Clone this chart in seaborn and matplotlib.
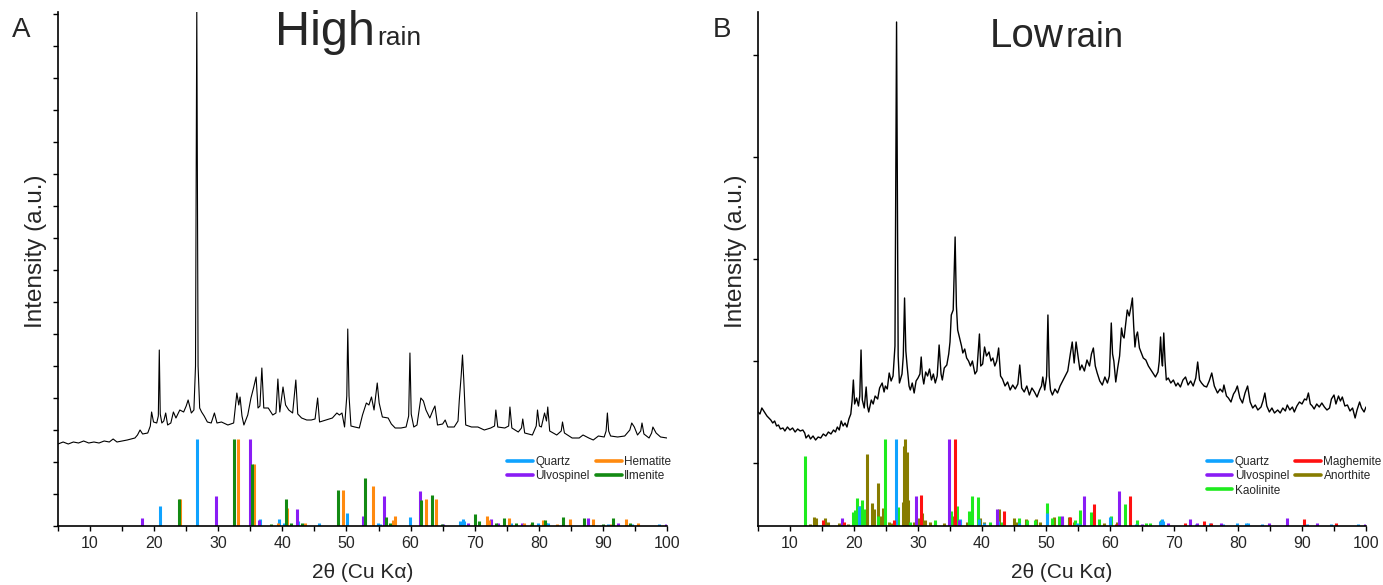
import numpy as np
import pandas as pd
import seaborn as sns
import matplotlib.pyplot as plt
from matplotlib.lines import Line2D
from matplotlib.ticker import MultipleLocator

sns.set_style("ticks")
plt.rcParams['font.family'] = ['Liberation Sans', 'DejaVu Sans']

HIGH_TRACE = [
    (5.0, 82), (5.8, 84), (6.6, 82), (7.4, 84), (8.2, 83), (9.0, 85), (9.8, 83), (10.6, 84),
    (11.4, 83), (12.2, 85), (13.0, 84), (13.6, 87), (14.2, 84), (15.0, 85), (15.8, 86), (16.4, 87),
    (17.0, 88), (17.4, 91), (17.8, 96), (18.2, 92), (19.0, 93), (19.4, 100), (19.6, 114), (19.9, 104),
    (20.4, 103), (20.65, 110), (20.8, 176), (20.95, 112), (21.2, 103), (21.5, 105), (21.8, 113),
    (22.1, 101), (22.6, 103), (23.0, 114), (23.4, 108), (24.0, 116), (24.6, 114), (25.0, 120),
    (25.3, 126), (25.8, 113), (26.2, 116), (26.45, 160), (26.65, 520), (26.85, 160), (27.1, 118),
    (27.4, 114), (27.8, 110), (28.3, 104), (28.9, 103), (29.4, 113), (29.8, 103), (30.5, 104),
    (31.5, 101), (32.4, 103), (32.9, 133), (33.2, 121), (33.4, 129), (33.7, 110), (34.0, 101),
    (34.6, 111), (35.1, 128), (35.5, 138), (35.9, 149), (36.2, 118), (36.5, 120), (36.8, 158),
    (37.1, 118), (37.8, 118), (38.5, 111), (39.0, 113), (39.3, 147), (39.6, 114), (40.1, 139),
    (40.5, 121), (41.0, 116), (41.6, 113), (42.1, 146), (42.4, 112), (43.0, 108), (43.8, 106),
    (44.5, 106), (45.1, 107), (45.5, 128), (45.8, 104), (46.8, 106), (47.8, 108), (48.5, 113),
    (48.9, 111), (49.3, 113), (49.7, 99), (50.05, 130), (50.2, 197), (50.4, 130), (50.7, 100),
    (51.3, 99), (52.0, 98), (52.5, 111), (53.1, 123), (53.5, 121), (53.9, 129), (54.3, 116),
    (54.8, 143), (55.1, 123), (55.6, 109), (56.5, 108), (57.0, 102), (57.6, 98), (58.5, 98),
    (59.3, 99), (59.7, 110), (59.9, 173), (60.1, 112), (60.5, 99), (61.0, 101), (61.6, 128),
    (62.0, 125), (62.4, 116), (63.0, 108), (63.5, 116), (63.8, 120), (64.2, 101), (65.0, 102),
    (65.4, 106), (65.8, 99), (66.8, 99), (67.4, 105), (67.6, 126), (67.9, 151), (68.1, 171),
    (68.3, 146), (68.6, 101), (69.5, 99), (70.5, 99), (71.5, 96), (72.5, 98), (73.1, 100),
    (73.3, 116), (73.6, 99), (74.7, 98), (75.3, 100), (75.5, 119), (75.8, 98), (76.8, 94),
    (77.3, 98), (77.5, 107), (77.8, 93), (79.0, 91), (79.6, 100), (79.8, 116), (80.1, 100),
    (80.4, 99), (80.9, 113), (81.2, 105), (81.4, 119), (81.7, 95), (82.8, 91), (83.5, 95),
    (83.7, 104), (84.0, 93), (85.2, 88), (86.3, 88), (86.9, 91), (87.8, 88), (88.5, 86), (89.3, 90),
    (90.2, 89), (90.5, 95), (90.7, 113), (90.9, 95), (91.2, 90), (92.3, 89), (93.4, 90), (94.2, 96),
    (94.5, 103), (94.9, 99), (95.4, 91), (95.9, 95), (96.1, 103), (96.4, 92), (97.2, 88), (97.6, 93),
    (97.8, 99), (98.3, 93), (99.0, 89), (100.0, 88),
]

LOW_TRACE = [
    (5.0, 114), (5.3, 112), (5.6, 118), (5.8, 116), (6.1, 113), (6.4, 110), (6.7, 108), (7.0, 106),
    (7.3, 103), (7.6, 105), (7.9, 100), (8.2, 101), (8.5, 97), (8.9, 98), (9.2, 95), (9.6, 99),
    (10.0, 96), (10.4, 98), (10.8, 94), (11.2, 97), (11.6, 95), (12.0, 96), (12.3, 93), (12.5, 88),
    (12.9, 91), (13.2, 87), (13.6, 90), (14.0, 86), (14.4, 89), (14.8, 88), (15.2, 92), (15.6, 90),
    (16.0, 94), (16.4, 92), (16.8, 96), (17.1, 94), (17.4, 99), (17.7, 96), (18.0, 105), (18.3, 100),
    (18.6, 103), (18.9, 99), (19.2, 107), (19.5, 112), (19.7, 125), (19.9, 146), (20.1, 122),
    (20.4, 128), (20.7, 120), (20.9, 130), (21.1, 176), (21.3, 126), (21.6, 118), (21.9, 139),
    (22.1, 120), (22.3, 114), (22.7, 126), (23.0, 122), (23.3, 130), (23.7, 127), (24.0, 138),
    (24.4, 143), (24.7, 134), (24.9, 140), (25.2, 137), (25.5, 153), (25.8, 145), (26.1, 150),
    (26.4, 180), (26.65, 504), (26.9, 170), (27.1, 143), (27.5, 152), (27.7, 170), (27.9, 228),
    (28.1, 175), (28.3, 160), (28.6, 140), (28.8, 136), (29.1, 143), (29.4, 133), (29.7, 145),
    (30.0, 148), (30.3, 152), (30.5, 169), (30.7, 150), (30.9, 142), (31.2, 154), (31.5, 150),
    (31.8, 157), (32.1, 146), (32.4, 152), (32.7, 143), (33.0, 150), (33.3, 181), (33.6, 152),
    (33.8, 146), (34.1, 158), (34.5, 161), (34.8, 172), (35.0, 184), (35.2, 211), (35.5, 216),
    (35.8, 289), (36.0, 220), (36.2, 196), (36.5, 188), (36.8, 180), (37.0, 173), (37.3, 177),
    (37.6, 168), (37.9, 165), (38.2, 160), (38.5, 165), (38.9, 152), (39.2, 155), (39.6, 192),
    (39.8, 160), (40.1, 162), (40.4, 179), (40.7, 170), (41.1, 174), (41.4, 165), (41.7, 168),
    (42.0, 160), (42.3, 165), (42.6, 178), (42.9, 150), (43.2, 147), (43.6, 140), (44.0, 144),
    (44.4, 136), (44.8, 141), (45.2, 137), (45.6, 142), (45.9, 161), (46.2, 138), (46.6, 134),
    (47.0, 140), (47.4, 131), (47.8, 138), (48.2, 134), (48.6, 129), (49.0, 136), (49.3, 140),
    (49.5, 149), (49.8, 136), (50.1, 150), (50.3, 211), (50.5, 150), (50.7, 136), (51.0, 131),
    (51.4, 137), (51.8, 133), (52.2, 140), (52.6, 145), (53.0, 150), (53.4, 155), (53.8, 172),
    (54.1, 184), (54.4, 163), (54.7, 184), (55.0, 170), (55.3, 156), (55.6, 161), (56.0, 155),
    (56.4, 166), (56.8, 160), (57.1, 172), (57.4, 178), (57.7, 160), (58.0, 153), (58.4, 145),
    (58.8, 141), (59.2, 149), (59.6, 143), (59.9, 150), (60.2, 203), (60.4, 172), (60.6, 165),
    (60.9, 144), (61.2, 158), (61.5, 170), (61.8, 198), (62.0, 190), (62.2, 188), (62.5, 205),
    (62.7, 216), (63.0, 210), (63.3, 220), (63.5, 228), (63.7, 200), (63.9, 179), (64.1, 190),
    (64.3, 194), (64.6, 178), (64.9, 173), (65.2, 168), (65.6, 166), (66.0, 160), (66.4, 156),
    (66.8, 152), (67.1, 149), (67.5, 154), (67.7, 165), (67.9, 189), (68.1, 165), (68.2, 160),
    (68.4, 193), (68.6, 165), (68.8, 146), (69.1, 148), (69.5, 143), (69.9, 146), (70.3, 140),
    (70.6, 143), (71.0, 139), (71.4, 146), (71.8, 149), (72.2, 141), (72.6, 145), (73.0, 140),
    (73.4, 148), (73.7, 164), (74.0, 146), (74.3, 143), (74.7, 140), (75.1, 139), (75.5, 145),
    (75.9, 153), (76.3, 140), (76.8, 133), (77.2, 137), (77.6, 134), (77.8, 141), (78.2, 130),
    (78.5, 128), (78.9, 124), (79.3, 132), (79.6, 135), (79.9, 140), (80.3, 128), (80.7, 123),
    (81.1, 133), (81.5, 140), (81.9, 124), (82.3, 118), (82.7, 121), (83.1, 116), (83.6, 119),
    (83.9, 125), (84.2, 133), (84.5, 120), (84.9, 114), (85.3, 118), (85.7, 113), (86.2, 116),
    (86.6, 113), (87.0, 118), (87.4, 115), (87.7, 121), (88.1, 116), (88.5, 119), (88.8, 114),
    (89.2, 120), (89.6, 124), (90.0, 122), (90.4, 127), (90.7, 126), (91.0, 133), (91.3, 122),
    (91.6, 120), (91.9, 117), (92.3, 122), (92.7, 119), (93.1, 123), (93.5, 119), (93.9, 116),
    (94.3, 118), (94.6, 127), (95.0, 131), (95.3, 122), (95.7, 130), (96.0, 125), (96.3, 129),
    (96.7, 120), (97.1, 121), (97.5, 115), (97.9, 118), (98.3, 108), (98.6, 116), (99.0, 124),
    (99.3, 118), (99.7, 114), (100.0, 119),
]

# padroes de referencia (posicao 2theta, intensidade relativa %)
QUARTZ = [(20.85, 23), (26.64, 100), (36.54, 8), (39.47, 8), (40.29, 4), (42.45, 6), (45.79, 4),
          (50.14, 15), (54.87, 4), (55.3, 2), (59.96, 10), (64.0, 2), (67.74, 6), (68.14, 8),
          (68.3, 6), (73.5, 2), (75.6, 3), (77.7, 2), (79.9, 3), (81.2, 4), (81.5, 4), (83.8, 2),
          (90.8, 2), (94.6, 2), (98.7, 2)]
ULVOSPINEL = [(18.1, 9), (29.7, 34), (34.9, 100), (36.4, 7), (42.3, 20), (52.5, 11), (55.9, 34),
              (61.4, 40), (65.0, 2), (69.0, 4), (72.5, 8), (73.6, 4), (77.4, 3), (84.9, 4),
              (87.7, 9), (92.3, 3), (99.8, 2)]
HEMATITE = [(24.1, 31), (33.1, 100), (35.6, 71), (39.3, 4), (40.8, 21), (43.5, 4), (49.5, 41),
            (54.1, 46), (57.3, 7), (57.6, 11), (62.4, 31), (64.0, 31), (71.9, 11), (72.2, 7),
            (75.4, 9), (77.7, 3), (78.8, 2), (80.7, 7), (82.9, 2), (84.9, 8), (88.5, 8), (91.3, 2),
            (93.6, 8), (95.5, 4)]
ILMENITE = [(23.8, 31), (32.5, 100), (35.3, 71), (38.3, 2), (40.5, 31), (41.4, 3), (43.0, 3),
            (48.7, 41), (52.9, 55), (56.2, 10), (56.8, 4), (61.6, 30), (63.3, 36), (64.9, 2),
            (70.1, 14), (70.6, 6), (73.4, 4), (74.5, 9), (76.5, 4), (78.9, 5), (80.9, 7), (83.8, 10),
            (87.1, 9), (90.0, 2), (91.5, 9), (94.2, 4)]
MAGHEMITE = [(15.2, 7), (18.5, 5), (26.3, 7), (30.5, 36), (35.8, 100), (43.5, 17), (53.8, 10),
             (57.5, 25), (60.9, 2), (63.1, 35), (71.7, 4), (74.7, 6), (75.8, 3), (90.3, 8), (95.3, 4)]
ANORTHITE = [(13.1, 2), (13.8, 10), (14.1, 9), (15.5, 9), (15.9, 5), (17.7, 3), (19.0, 2), (20.1, 7),
             (22.1, 83), (22.8, 26), (23.2, 19), (23.8, 49), (24.1, 11), (24.6, 21), (25.5, 5),
             (25.9, 4), (27.6, 28), (27.8, 92), (28.0, 100), (28.3, 85), (28.5, 30), (29.3, 5),
             (30.1, 9), (30.7, 15), (31.1, 7), (31.9, 5), (32.7, 5), (34.0, 4), (35.6, 11), (36.6, 7),
             (37.7, 5), (39.7, 9), (40.3, 5), (42.6, 19), (45.0, 9), (45.5, 5), (46.8, 8), (48.5, 8),
             (49.1, 5), (51.2, 10), (52.5, 9), (53.6, 10), (54.3, 5), (59.0, 3), (61.1, 5)]
KAOLINITE = [(12.4, 81), (19.9, 16), (20.1, 18), (20.5, 32), (20.9, 23), (21.3, 30), (21.6, 19),
             (23.7, 11), (24.9, 100), (26.9, 22), (28.7, 5), (32.7, 7), (35.1, 17), (36.1, 23),
             (37.9, 17), (38.5, 35), (39.3, 33), (41.3, 5), (43.2, 5), (45.8, 9), (47.0, 7),
             (48.3, 7), (50.2, 26), (51.0, 9), (52.0, 11), (54.6, 7), (55.3, 18), (57.1, 16),
             (58.3, 8), (60.1, 11), (62.4, 25), (64.2, 7), (65.6, 4), (66.3, 4), (67.9, 7)]

PATTERN_TOP = 87  # altura do pico de 100 % nas mesmas unidades do difratograma

cores = {'Quartz': '#0FA3FF', 'Hematite': '#FF8A0F', 'Ulvospinel': '#8A1CF5',
         'Ilmenite': '#138A13', 'Maghemite': '#FF1010', 'Anorthite': '#877C00',
         'Kaolinite': '#1EEB1E'}

fig = plt.figure(figsize=(13.83, 5.85), dpi=100)
W, H = 1383, 585
ax1 = fig.add_axes([58 / W, 59 / H, 609 / W, 514 / H])
ax2 = fig.add_axes([758 / W, 59 / H, 608 / W, 514 / H])


def desenha_padroes(ax, padroes):
    for nome, picos in padroes:
        pos = [p[0] for p in picos]
        alt = [p[1] * PATTERN_TOP / 100 for p in picos]
        ax.vlines(pos, 0, alt, colors=cores[nome], lw=2.2)


def desenha_traco(ax, traco, lw):
    df = pd.DataFrame(traco, columns=['two_theta', 'intensity'])
    sns.lineplot(data=df, x='two_theta', y='intensity', ax=ax, color='black',
                 lw=lw, estimator=None, sort=False)


desenha_traco(ax1, HIGH_TRACE, 0.8)
desenha_padroes(ax1, [('Quartz', QUARTZ), ('Ulvospinel', ULVOSPINEL),
                      ('Hematite', HEMATITE), ('Ilmenite', ILMENITE)])

desenha_traco(ax2, LOW_TRACE, 1.0)
desenha_padroes(ax2, [('Anorthite', ANORTHITE), ('Kaolinite', KAOLINITE), ('Quartz', QUARTZ),
                      ('Ulvospinel', ULVOSPINEL), ('Maghemite', MAGHEMITE)])

for ax, yt in [(ax1, np.arange(0, 513, 32)), (ax2, [63, 165, 267, 369, 471])]:
    ax.set_xlim(5, 100)
    ax.set_ylim(0, 514)
    ax.xaxis.set_major_locator(MultipleLocator(10))
    ax.xaxis.set_minor_locator(MultipleLocator(5))
    ax.set_yticks(yt)
    ax.set_yticklabels([])
    ax.tick_params(axis='both', which='both', direction='out', length=3.5, width=1,
                   color='black', pad=4, labelsize=11)
    ax.tick_params(axis='x', which='major', labelsize=11.5)
    for s in ['top', 'right']:
        ax.spines[s].set_visible(False)
    for s in ['left', 'bottom']:
        ax.spines[s].set_linewidth(1.2)
        ax.spines[s].set_color('black')
    ax.set_xlabel('2θ (Cu Kα)', fontsize=15)
    ax.xaxis.set_label_coords(0.5, -0.072)
    ax.set_ylabel('Intensity (a.u.)', fontsize=17.5)
    ax.yaxis.set_label_coords(-0.018, 0.535)


# legendas
def legenda(ax, nomes):
    handles = [Line2D([], [], color=cores[n], lw=2.6) for n in nomes]
    ax.legend(handles, nomes, ncol=2, frameon=False, fontsize=8.5, loc='upper left',
              bbox_to_anchor=(0.728, 0.148), borderpad=0, handlelength=2.2,
              handletextpad=0.2, columnspacing=0.5, labelspacing=0.2)


legenda(ax1, ['Quartz', 'Ulvospinel', 'Hematite', 'Ilmenite'])
legenda(ax2, ['Quartz', 'Ulvospinel', 'Kaolinite', 'Maghemite', 'Anorthite'])

# titulos e letras dos paineis
fig.text(12 / W, 1 - 37 / H, 'A', fontsize=20, va='baseline')
fig.text(713 / W, 1 - 37 / H, 'B', fontsize=20, va='baseline')

fig.canvas.draw()
for x0, y0, grande, pequeno, s1, s2 in [(275, 45, 'High', 'rain', 35, 19),
                                       (990, 47, 'Low', 'rain', 29, 25)]:
    t = fig.text(x0 / W, 1 - y0 / H, grande, fontsize=s1, va='baseline')
    bb = t.get_window_extent(renderer=fig.canvas.get_renderer())
    fig.text((bb.x1 + 2) / W, 1 - y0 / H, pequeno, fontsize=s2, va='baseline')

plt.savefig('out.png', dpi=100)
